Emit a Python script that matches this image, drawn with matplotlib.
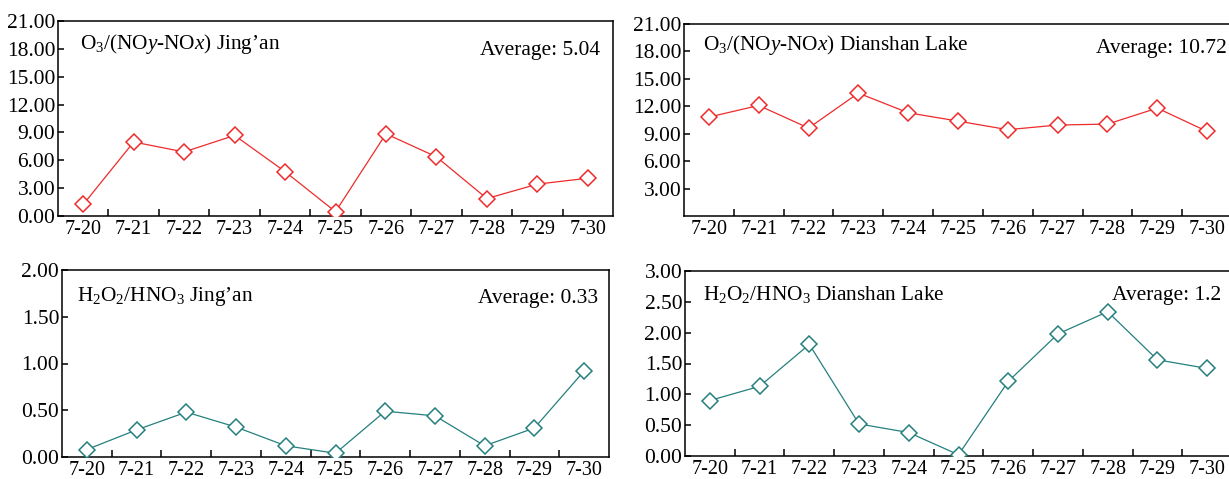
import matplotlib
matplotlib.use("Agg")
import matplotlib.pyplot as plt
import numpy as np

plt.rcParams['font.family'] = ['Liberation Serif', 'DejaVu Serif']
plt.rcParams['mathtext.fontset'] = 'custom'
plt.rcParams['mathtext.rm'] = 'Liberation Serif'
plt.rcParams['mathtext.it'] = 'Liberation Serif:italic'

###################################################################################################

dates = ['7-20', '7-21', '7-22', '7-23', '7-24', '7-25', '7-26', '7-27', '7-28', '7-29', '7-30']

o3_jingan = [1.24, 7.97, 6.90, 8.68, 4.78, 0.46, 8.85, 6.37, 1.88, 3.43, 4.07]
o3_dianshan = [10.82, 12.09, 9.62, 13.44, 11.29, 10.38, 9.44, 9.95, 10.05, 11.80, 9.25]
h2o2_jingan = [0.08, 0.29, 0.48, 0.32, 0.12, 0.04, 0.49, 0.44, 0.12, 0.31, 0.92]
h2o2_dianshan = [0.90, 1.13, 1.81, 0.52, 0.38, 0.02, 1.21, 1.98, 2.34, 1.56, 1.42]

titles = [r"O$_3$/(NO$\mathit{y}$-NO$\mathit{x}$) Jing’an",
          r"O$_3$/(NO$\mathit{y}$-NO$\mathit{x}$) Dianshan Lake",
          r"H$_2$O$_2$/HNO$_3$ Jing’an",
          r"H$_2$O$_2$/HNO$_3$ Dianshan Lake"]
averages = ['Average: 5.04', 'Average: 10.72', 'Average: 0.33', 'Average: 1.2']

RED = '#EE2B2B'
TEAL = '#24807E'

###################################################################################################

def draw_panel(ax, values, color, yticks, ymax, title, avg, title_pos, avg_pos):
    x = np.arange(len(dates))
    ax.plot(x, values, color=color, lw=0.9, marker='D', ms=8,
            mfc='white', mec=color, mew=1.1, zorder=3)
    ax.set_xlim(-0.5, len(dates) - 0.5)
    ax.set_ylim(0, ymax)
    ax.set_xticks(x)
    ax.set_xticklabels(dates)
    ax.set_xticks(x[:-1] + 0.5, minor=True)
    ax.tick_params(axis='x', which='major', length=0, pad=3, labelsize=14.5)
    ax.tick_params(axis='x', which='minor', direction='in', length=5, width=1.1)
    ax.set_yticks(yticks)
    ax.set_yticklabels([f"{t:.2f}" for t in yticks])
    ax.tick_params(axis='y', direction='in', length=4, width=1.1, pad=2, labelsize=15.5)
    for s in ax.spines.values():
        s.set_linewidth(1.1)
    ax.text(title_pos[0], title_pos[1], title, transform=ax.transAxes,
            ha='left', va='center', fontsize=15.3)
    ax.text(avg_pos[0], avg_pos[1], avg, transform=ax.transAxes,
            ha='right', va='center', fontsize=15.5)


W, H = 1229, 479
fig = plt.figure(figsize=(W / 100, H / 100), dpi=100)

def box(l, r, t, b):
    return [l / W, 1 - b / H, (r - l) / W, (b - t) / H]

ax1 = fig.add_axes(box(58, 613, 21, 216))
ax2 = fig.add_axes(box(684, 1232, 24, 216))
ax3 = fig.add_axes(box(62, 609, 270, 457))
ax4 = fig.add_axes(box(685, 1232, 271, 456))

draw_panel(ax1, o3_jingan, RED, np.arange(0, 22, 3), 21, titles[0], averages[0],
           (0.04, 0.88), (0.977, 0.85))
draw_panel(ax2, o3_dianshan, RED, np.arange(3, 22, 3), 21, titles[1], averages[1],
           (0.035, 0.89), (0.99, 0.87))
draw_panel(ax3, h2o2_jingan, TEAL, np.arange(0, 2.01, 0.5), 2, titles[2], averages[2],
           (0.027, 0.86), (0.98, 0.85))
draw_panel(ax4, h2o2_dianshan, TEAL, np.arange(0, 3.01, 0.5), 3, titles[3], averages[3],
           (0.033, 0.875), (0.98, 0.87))

fig.savefig('out.png', dpi=100)
